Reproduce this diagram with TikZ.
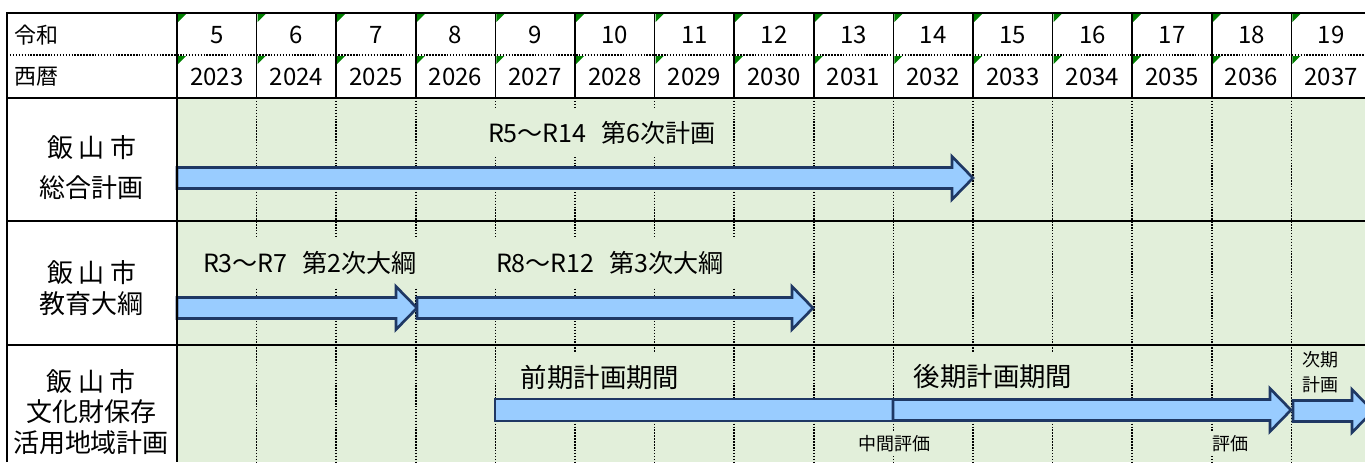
\documentclass[tikz,border=0pt]{standalone}
\usepackage{fontspec}
\setmainfont{Noto Sans CJK JP}
\usepackage{xcolor}
\usepackage{tikz}
\usetikzlibrary{positioning}

\definecolor{gridgreen}{RGB}{226,239,218}
\definecolor{arrowblue}{RGB}{153,204,255}
\definecolor{arrownavy}{RGB}{31,56,100}
\definecolor{cornergreen}{RGB}{0,128,0}

\tikzset{
  gridline/.style={line width=1.3pt, black},
  dotline/.style={line width=1.3pt, black, dash pattern=on 1.1pt off 1.1pt},
  planarrow/.style={draw=arrownavy, fill=arrowblue, line width=2pt, line join=miter},
  headtext/.style={font=\fontsize{16.5}{20}\selectfont, inner sep=0pt},
  numtext/.style={font=\fontsize{18}{20}\selectfont, inner sep=0pt},
  rowname/.style={font=\fontsize{19.5}{23}\selectfont, align=center, inner sep=0pt},
  plantext/.style={font=\fontsize{18.8}{20}\selectfont, fill=gridgreen, inner xsep=8pt, inner ysep=9pt},
  phasetext/.style={font=\fontsize{19.8}{23}\selectfont, fill=gridgreen, inner xsep=12pt, inner ysep=9pt},
  notetext/.style={font=\fontsize{13.5}{19}\selectfont, fill=gridgreen, align=center, inner sep=3pt}
}

% block arrow: start x, tip x, middle y
\newcommand{\blockarrow}[3]{
  \draw[planarrow] (#1,#3-10.5) -- (#2-21,#3-10.5) -- (#2-21,#3-21.5) -- (#2,#3)
    -- (#2-21,#3+21.5) -- (#2-21,#3+10.5) -- (#1,#3+10.5) -- cycle;
}

\begin{document}
\begin{tikzpicture}[x=0.75pt,y=-0.75pt]

\clip (0,0) rectangle (1365,462);
\fill[white] (0,0) rectangle (1365,462);

% Green plan area
\fill[gridgreen] (177,98) rectangle (1365,462);

% Dotted year lines
\foreach \k in {1,...,14}
{
  \draw[dotline] (177+79.6*\k,98) -- (177+79.6*\k,462);
}

% Plan labels
\node[plantext] (sogo) at (602,133) {R5～R14\hspace{0.6em}第6次計画};
\node[plantext] (taiko2) at (310,263) {R3～R7\hspace{0.6em}第2次大綱};
\node[plantext] (taiko3) at (610,263) {R8～R12\hspace{0.6em}第3次大綱};
\node[phasetext] (zenki) at (600,377) {前期計画期間};
\node[phasetext] (koki) at (993,377) {後期計画期間};
\node[notetext] (chukan) at (894,444) {中間評価};
\node[notetext] (hyoka) at (1230,444) {評価};
\node[notetext, fill=none] (jiki) at (1320,372) {次期\\計画};

% Draw the arrows
\blockarrow{177}{973}{178}
\blockarrow{177}{417}{308}
\blockarrow{417}{813}{308}
\draw[planarrow] (495,399) rectangle (893,421);
\blockarrow{893}{1291}{410}
\blockarrow{1293}{1373}{411}

% Header rows
\node[headtext, anchor=west] (reiwa) at (14,35) {令和};
\node[headtext, anchor=west] (seireki) at (14,77) {西暦};
\foreach \n [count=\k from 0] in {5,...,19}
{
  \node[numtext] (r\n) at (216.8+79.6*\k,35) {\n};
}
\foreach \n [count=\k from 0] in {2023,...,2037}
{
  \node[numtext] (y\n) at (216.8+79.6*\k,77) {\n};
}

% Green corner marks
\foreach \k in {0,...,14}
{
  \fill[cornergreen] (178+79.6*\k,14) -- ++(8,0) -- ++(-8,8) -- cycle;
  \fill[cornergreen] (178+79.6*\k,56) -- ++(8,0) -- ++(-8,8) -- cycle;
}

% Row names
\node[rowname] (plan1) at (92,168) {飯 山 市\\[7pt]総合計画};
\node[rowname] (plan2) at (92,288) {飯 山 市\\教育大綱};
\node[rowname] (plan3) at (91,412) {飯 山 市\\文化財保存\\活用地域計画};

% Grid lines
\draw[dotline] (7,55) -- (1365,55);
\foreach \k in {1,...,14}
{
  \draw[gridline] (177+79.6*\k,13) -- (177+79.6*\k,98);
}
\draw[gridline] (7,462) -- (7,13) -- (1365,13);
\draw[gridline] (177,13) -- (177,462);
\foreach \y in {98,221,345}
{
  \draw[gridline] (7,\y) -- (1365,\y);
}

\end{tikzpicture}
\end{document}
